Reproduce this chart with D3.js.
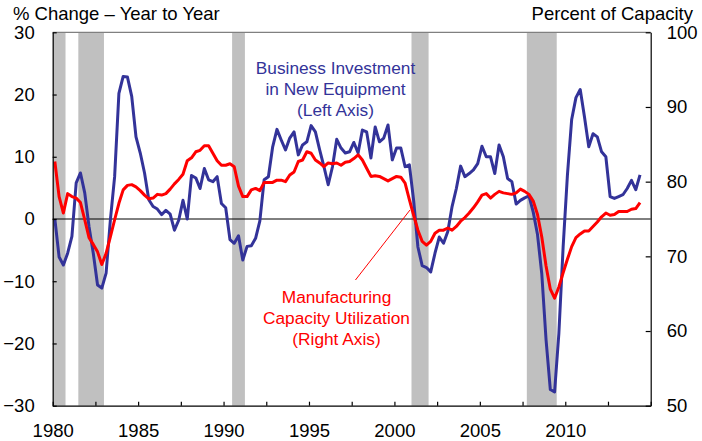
<!DOCTYPE html>
<html><head><meta charset="utf-8">
<script src="https://cdn.jsdelivr.net/npm/d3@7"></script>
<style>html,body{margin:0;padding:0;background:#fff;} svg{display:block;font-family:"Liberation Sans",Arial,sans-serif;}</style>
</head><body><svg id="c" width="702" height="441"></svg>
<script>
// ---- data (quarterly, 1980Q1 .. 2014Q2) ----
const startYear = 1980;
const investment = [
  0, -6.1, -7.4, -5.5, -2.8, 5.8, 7.4, 4.2, -1.2, -5.5, -10.6, -11.1, -8.7, -0.2, 6.8, 20.2, 22.9, 22.8,
  19.7, 13.2, 10.6, 7.4, 3.1, 2.0, 1.6, 0.7, 1.4, 0.8, -1.8, -0.2, 3.0, 0, 7.0, 6.6, 4.9, 8.1, 6.3, 6.0, 6.8, 2.5, 1.8, -3.3, -3.9, -2.7,
  -6.6, -4.4, -4.3, -3.1, -0.3, 6.3, 6.8, 11.6, 14.4, 12.7, 11.1, 13.0, 14.0, 10.3, 11.9, 12.4, 15.0, 14.0, 11.1, 8.4, 5.5, 8.4, 12.8, 11.4, 10.6, 10.8, 12.3, 10.6, 14.3, 14.0, 9.8, 14.8, 12.4, 13.0, 15.1, 9.5, 11.4, 11.4, 8.4, 8.7, 3.0, -4.5, -7.5, -7.8, -8.5, -5.5, -2.9,
  -3.9, -2.0, 2.0, 4.9, 8.5, 6.8, 7.3, 7.9, 8.9, 11.7, 10.0, 10.0, 7.3, 11.9, 10.0, 6.5, 6.0, 2.4, 3.0, 3.4, 3.7, 1.1, -2.5, -8.8, -19.4, -27.4, -27.8, -18.4, -4.5, 7.0, 16.0, 19.5, 20.8, 16.4, 11.6, 13.7, 13.2, 10.8, 10.0, 3.6, 3.3, 3.6, 3.9, 4.9, 6.2, 4.7, 7.1
];
const capacity = [
  82.7, 78.0, 75.8, 78.4, 78.0, 77.8, 77.2, 74.9, 72.5, 71.6, 70.6, 68.9, 70.4, 72.6, 74.9, 77.1, 78.9, 79.5, 79.6, 79.3, 78.8, 78.2, 77.7, 77.8, 78.3, 78.2, 78.4, 79.0, 79.7, 80.3, 81.0, 82.8, 83.2, 84.0, 84.2, 84.8, 84.8, 83.8, 82.8, 82.2, 82.2, 82.4, 82.0, 79.4,
  78.0, 78.0, 78.9, 79.1, 78.8, 79.9, 79.9, 79.9, 80.2, 80.2, 80.0, 80.9, 81.3, 82.7, 82.9, 84.0, 83.8, 82.9, 82.5, 82.0, 82.5, 82.4, 82.5, 82.2, 82.6, 82.7, 83.1, 83.6, 82.9, 81.8, 80.7, 80.8, 80.7, 80.4, 80.1, 80.4, 80.7, 80.6, 79.8, 77.6, 75.5, 73.5, 72.0, 71.5, 72.0, 73.1, 73.5,
  73.5, 73.8, 73.5, 74.0, 74.7, 75.2, 75.8, 76.5, 77.3, 78.2, 78.4, 77.8, 78.3, 78.7, 78.5, 78.4, 78.3, 78.5, 79.0, 78.7, 78.3, 77.4, 75.6, 72.6, 68.7, 65.6, 64.4, 65.9, 67.8, 69.6, 71.3, 72.5, 73.0, 73.4, 73.4, 74.0, 74.6, 75.3, 75.8, 75.5, 75.6, 76.0, 76.0, 76.0, 76.3, 76.4, 77.2
];
const recessions = [[1980.0, 1980.75], [1981.5, 1983.0], [1990.5, 1991.25], [2001.0, 2002.0], [2007.75, 2009.5]];
const xTicks = d3.range(1980, 2015.01, 2.5);
const xLabels = [1980, 1985, 1990, 1995, 2000, 2005, 2010];
const leftTicks = [-30, -20, -10, 0, 10, 20, 30];
const rightTicks = [50, 60, 70, 80, 90, 100];
const leftTitle = "% Change \u2013 Year to Year";
const rightTitle = "Percent of Capacity";
const blueLabel = ["Business Investment", "in New Equipment", "(Left Axis)"];
const redLabel = ["Manufacturing", "Capacity Utilization", "(Right Axis)"];

// ---- layout ----
const L = 52.7, R = 650.7, T = 32.3, B = 405.7;
const BLUE = "#333399", RED = "#ff0000";
const svg = d3.select("#c");
const x = d3.scaleLinear().domain([1980, 2015]).range([L, R]);
const yL = d3.scaleLinear().domain([-30, 30]).range([B, T]);
const yR = d3.scaleLinear().domain([50, 100]).range([B, T]);
const date = i => startYear + (i + 0.5) / 4;

// recession bars
svg.append("g").selectAll("rect").data(recessions).join("rect")
  .attr("x", d => x(d[0])).attr("width", d => x(d[1]) - x(d[0]))
  .attr("y", T).attr("height", B - T).attr("fill", "#c0c0c0");

// zero line
svg.append("line").attr("x1", L).attr("x2", R).attr("y1", yL(0)).attr("y2", yL(0))
  .attr("stroke", "#000").attr("stroke-width", 1);

// series
const lineL = d3.line().x((d, i) => x(date(i))).y(d => yL(d));
const lineR = d3.line().x((d, i) => x(date(i))).y(d => yR(d));
svg.append("path").datum(investment).attr("d", lineL).attr("fill", "none")
  .attr("stroke", BLUE).attr("stroke-width", 3).attr("stroke-linejoin", "round");
svg.append("path").datum(capacity).attr("d", lineR).attr("fill", "none")
  .attr("stroke", RED).attr("stroke-width", 3).attr("stroke-linejoin", "round");

// top border
svg.append("line").attr("x1", L).attr("x2", R).attr("y1", T).attr("y2", T)
  .attr("stroke", "#808080").attr("stroke-width", 1.2);

// axes
const FS = "18.5px";
function styleAxis(g) {
  g.attr("font-size", null).attr("font-family", null).attr("color", "#000");
  g.selectAll("text").style("font-size", FS).attr("fill", "#000");
  g.selectAll("line,path").attr("stroke", "#000").attr("stroke-width", 1.2);
}
svg.append("g").attr("transform", `translate(0,${B})`)
  .call(d3.axisBottom(x).tickValues(xTicks).tickSizeInner(-4).tickSizeOuter(0).tickPadding(18)
    .tickFormat(d => xLabels.includes(d) ? String(d) : ""))
  .call(styleAxis);
svg.append("g").attr("transform", `translate(${L},0)`)
  .call(d3.axisLeft(yL).tickValues(leftTicks).tickSizeInner(-4).tickSizeOuter(0).tickPadding(18).tickFormat(d3.format("d")))
  .call(styleAxis);
svg.append("g").attr("transform", `translate(${R},0)`)
  .call(d3.axisRight(yR).tickValues(rightTicks).tickSizeInner(-5).tickSizeOuter(0).tickPadding(16).tickFormat(d3.format("d")))
  .call(styleAxis);

// axis titles
svg.append("text").attr("x", 13).attr("y", 20).attr("font-size", FS).attr("fill", "#000").text(leftTitle);
svg.append("text").attr("x", 693).attr("y", 20).attr("text-anchor", "end").attr("font-size", FS).attr("fill", "#000").text(rightTitle);

// annotations
const AFS = "17.3px";
svg.append("g").selectAll("text").data(blueLabel).join("text")
  .attr("x", 335.5).attr("y", (d, i) => 74 + i * 20.8).attr("text-anchor", "middle")
  .attr("font-size", AFS).attr("fill", BLUE).text(d => d);
svg.append("g").selectAll("text").data(redLabel).join("text")
  .attr("x", 336.5).attr("y", (d, i) => 302.5 + i * 21.2).attr("text-anchor", "middle")
  .attr("font-size", AFS).attr("fill", RED).text(d => d);
svg.append("line")
  .attr("x1", x(1997.72)).attr("y1", yR(66.83)).attr("x2", x(2000.91)).attr("y2", yR(76.2))
  .attr("stroke", RED).attr("stroke-width", 1);
</script></body></html>
